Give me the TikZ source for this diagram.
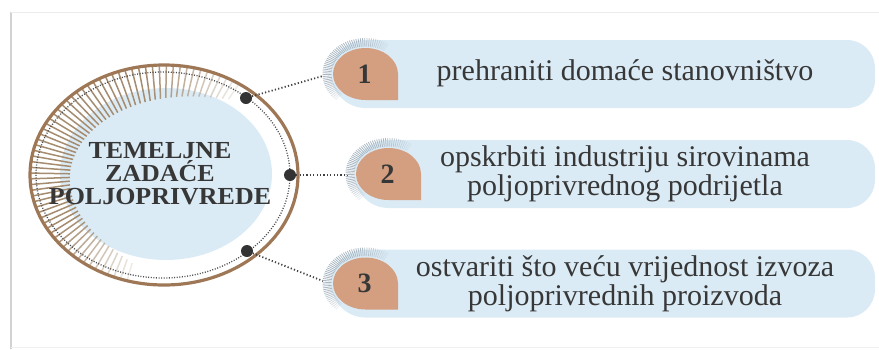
\documentclass[tikz,border=0pt]{standalone}
\usepackage{fontspec}
\setmainfont{Liberation Serif}
\definecolor{pillblue}{RGB}{219,235,245}
\definecolor{tear}{RGB}{211,159,128}
\definecolor{ringbrown}{RGB}{158,120,86}
\definecolor{raytan}{RGB}{165,140,112}
\definecolor{raygrey}{RGB}{170,184,195}
\definecolor{txt}{RGB}{55,55,55}
\begin{document}
\begin{tikzpicture}[x=1pt,y=-1pt,
  dotline/.style={draw=black!75, line width=1.8pt, dash pattern=on 1.2pt off 2.2pt},
  dotring/.style={draw=black!70, line width=1.3pt, dash pattern=on 1pt off 1.6pt},
  bigdot/.style={circle, fill=black!80, inner sep=0pt, minimum size=12pt},
  num/.style={font=\bfseries\fontsize{28}{28}\selectfont, text=txt},
  ptext/.style={font=\fontsize{30}{29}\selectfont, text=txt, align=center},
  ttext/.style={font=\bfseries\fontsize{24.5}{23}\selectfont, text=txt, align=center}]
\useasboundingbox (0,0) rectangle (879,349);
% frame
\draw[gray!35, line width=2pt] (11,12) -- (11,349);
\draw[gray!15, line width=1pt] (11,12) -- (879,12);
\draw[gray!12, line width=1pt] (11,347.5) -- (879,347.5);

% big circle
\fill[pillblue] (166,174) ellipse [x radius=106, y radius=86];
\foreach \ang in {-56,-59,...,-256} {
  \pgfmathsetmacro\tt{(\ang+52)/(-206)}
  \pgfmathsetmacro\ss{max(0,sin(\tt*180))}
  \pgfmathsetmacro\op{min(1,0.1+1.4*\ss)}
  \pgfmathsetmacro\len{10+30*sqrt(\ss)}
  \draw[raytan, line width=1.5pt, opacity=\op]
    ({164+133*cos(\ang)},{175+109*sin(\ang)}) -- ({164+(133-\len)*cos(\ang)},{175+(109-\len)*sin(\ang)});
}
\draw[dotring] (163,175) ellipse [x radius=127, y radius=103];
\draw[ringbrown, line width=3.2pt] (164,175) ellipse [x radius=134, y radius=110];
\node[ttext, xscale=1.06] (title) at (160,174) {TEMELJNE\\ZADAĆE\\POLJOPRIVREDE};

\node[bigdot] (d1) at (246,98) {};
\node[bigdot] (d2) at (290,175) {};
\node[bigdot] (d3) at (247,251) {};
\coordinate (e1) at (323,76);
\coordinate (e2) at (348,175);
\coordinate (e3) at (323,281);
\draw[dotline] (d1) -- (e1);
\draw[dotline] (d2) -- (e2);
\draw[dotline] (d3) -- (e3);

% pills
\foreach \n/\cx/\cy in {1/365.5/74, 2/388.5/174, 3/365.5/283.5} {
  \fill[pillblue] (\cx,\cy-34) -- (847,\cy-34) arc[start angle=-90, end angle=0, radius=28]
    -- (875,\cy+6) arc[start angle=0, end angle=90, radius=28]
    -- (\cx,\cy+34) arc[start angle=90, end angle=270, radius=34] -- cycle;
  \foreach \ang in {-58,-61,...,-228} {
    \pgfmathsetmacro\tt{(\ang+56)/(-174)}
    \pgfmathsetmacro\ss{max(0,sin(\tt*180))}
    \pgfmathsetmacro\op{min(1,0.15+1.3*\ss)}
    \draw[raygrey, line width=0.8pt, opacity=\op]
      ({\cx+34*cos(\ang)},{\cy+27.5*sin(\ang)}) -- ({\cx+43*cos(\ang)},{\cy+36*sin(\ang)});
  }
  \fill[tear] (\cx+32.5,\cy+26) -- (\cx+32.5,\cy)
    arc[start angle=0, end angle=-270, x radius=32.5, y radius=26] -- cycle;
  \node[num] (n\n) at (\cx-1,\cy) {\n};
}
\node[ptext] (t1) at (625,73) {prehraniti domaće stanovništvo};
\node[ptext] (t2) at (625,174) {opskrbiti industriju sirovinama\\poljoprivrednog podrijetla};
\node[ptext] (t3) at (625,283.5) {ostvariti što veću vrijednost izvoza\\poljoprivrednih proizvoda};
\end{tikzpicture}
\end{document}
